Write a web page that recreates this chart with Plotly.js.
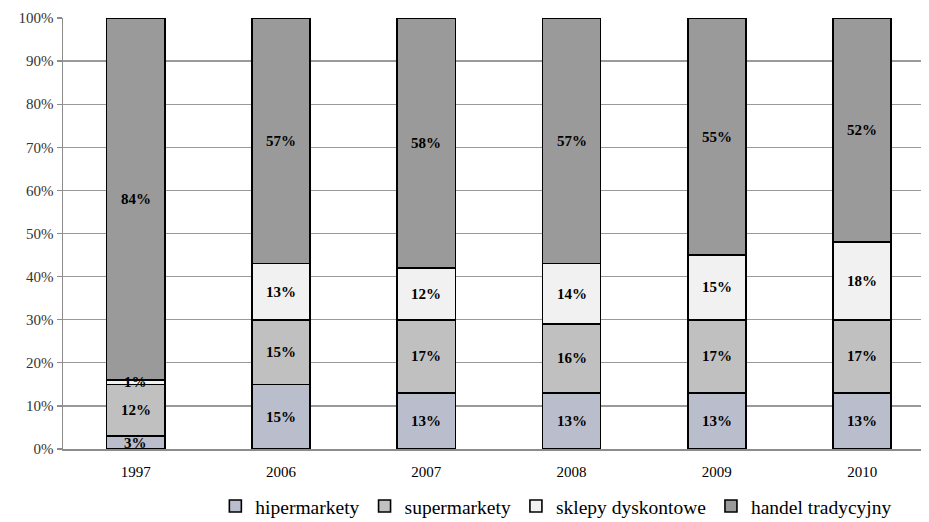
<!DOCTYPE html>
<html>
<head>
<meta charset="utf-8">
<script src="https://cdn.plot.ly/plotly-3.0.1.min.js"></script>
<style>html,body{margin:0;padding:0;background:#fff;}#chart{width:929px;height:522px;}</style>
</head>
<body>
<div id="chart"></div>
<script>
const years = ['1997', '2006', '2007', '2008', '2009', '2010'];
const seriesNames = ['hipermarkety', 'supermarkety', 'sklepy dyskontowe', 'handel tradycyjny'];
const hipermarkety = [3, 15, 13, 13, 13, 13];
const supermarkety = [12, 15, 17, 16, 17, 17];
const dyskontowe = [1, 13, 12, 14, 15, 18];
const tradycyjny = [84, 57, 58, 57, 55, 52];
const yTicks = [0, 10, 20, 30, 40, 50, 60, 70, 80, 90, 100];

const seriesValues = [hipermarkety, supermarkety, dyskontowe, tradycyjny];
const colors = ['#b9bdcc', '#c0c0c0', '#f1f1f1', '#9a9a9a'];
const SERIF = 'Liberation Serif';

const traces = seriesValues.map((vals, i) => ({
  type: 'bar',
  name: seriesNames[i],
  x: years,
  y: vals,
  marker: {color: colors[i], line: {color: '#000', width: 1.6}},
  hoverinfo: 'skip'
}));

const annotations = [];
years.forEach((yr, j) => {
  let base = 0;
  seriesValues.forEach((vals) => {
    const v = vals[j];
    annotations.push({
      x: j, y: base + v / 2, xref: 'x', yref: 'y',
      text: '<b>' + v + '%</b>', showarrow: false,
      font: {family: SERIF, size: 15, color: '#000'}
    });
    base += v;
  });
});

const layout = {
  width: 929, height: 522,
  font: {family: SERIF},
  margin: {l: 63, r: 8, t: 18, b: 73},
  paper_bgcolor: '#fff', plot_bgcolor: '#fff',
  barmode: 'stack',
  bargap: 0.6,
  showlegend: true,
  legend: {
    orientation: 'h', x: 0.575, xanchor: 'center',
    yref: 'container', y: 0.03, yanchor: 'middle',
    traceorder: 'normal',
    font: {family: SERIF, size: 19.5, color: '#000'},
    itemwidth: 30, tracegroupgap: 0
  },
  xaxis: {
    type: 'category',
    range: [-0.5, 5.405],
    showgrid: false,
    showline: true, linecolor: '#8c8c8c', linewidth: 1.5,
    ticks: '',
    ticklabelstandoff: 8,
    tickfont: {family: SERIF, size: 15, color: '#000'}
  },
  yaxis: {
    range: [0, 100],
    tickvals: yTicks,
    ticktext: yTicks.map(v => v + '%'),
    showgrid: true, gridcolor: '#9a9a9a', gridwidth: 1.3,
    showline: true, linecolor: '#8c8c8c', linewidth: 1.5,
    ticks: 'outside', ticklen: 5, tickcolor: '#8c8c8c', tickwidth: 1.3,
    zeroline: false,
    tickfont: {family: SERIF, size: 15, color: '#333'}
  },
  annotations: annotations
};

Plotly.newPlot('chart', traces, layout, {displayModeBar: false, staticPlot: true});
</script>
</body>
</html>
